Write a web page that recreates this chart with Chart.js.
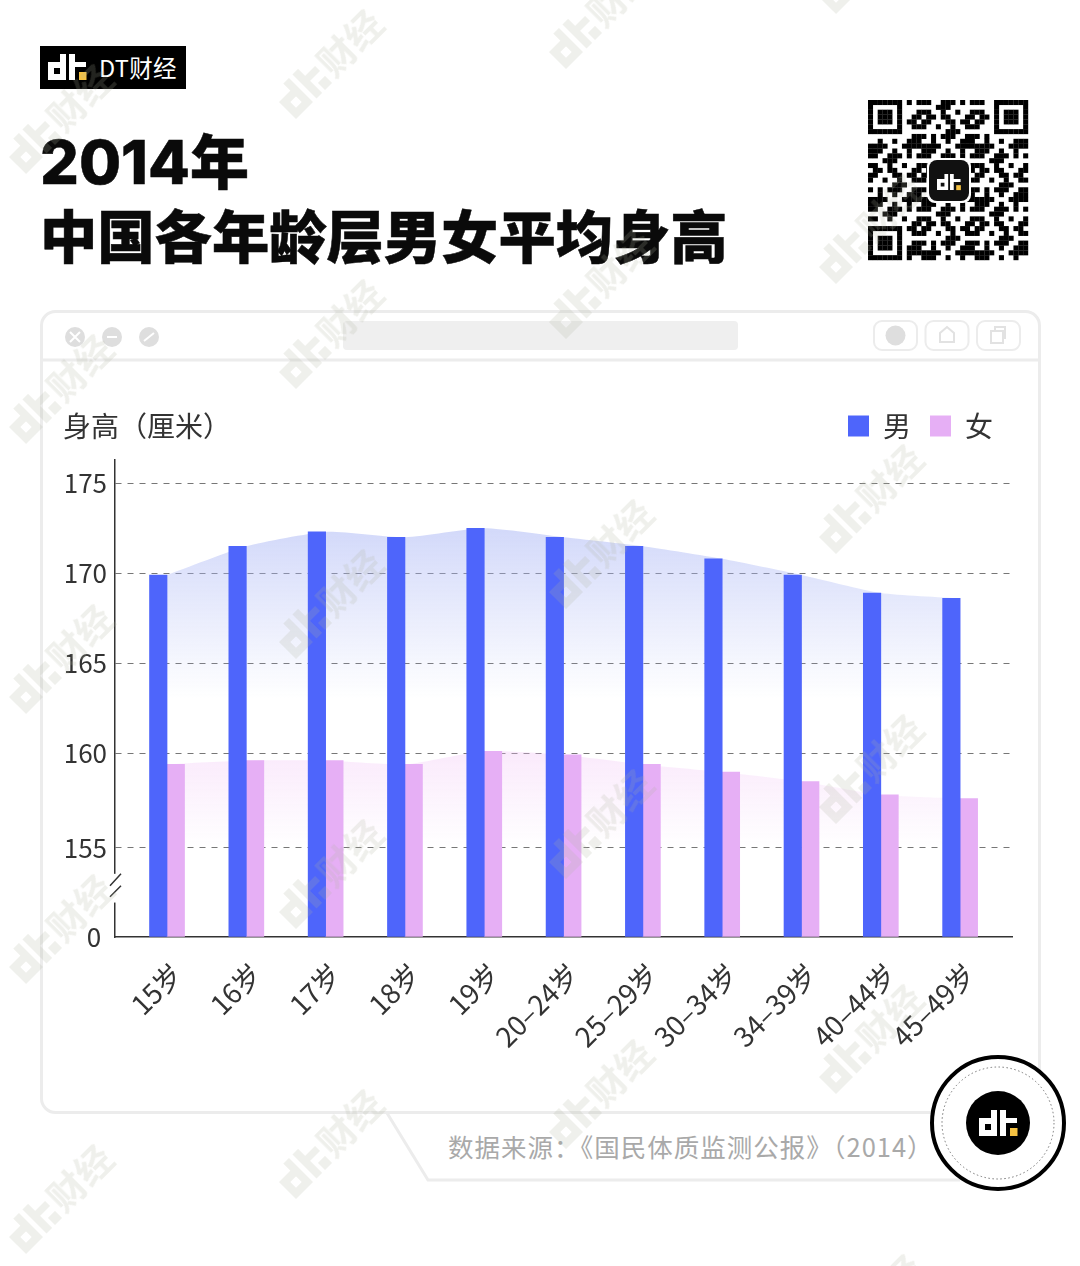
<!DOCTYPE html>
<html lang="zh"><head><meta charset="utf-8">
<script src="https://cdn.jsdelivr.net/npm/chart.js@4"></script>
<style>
html,body{margin:0;padding:0;background:#fff;width:1080px;height:1266px;overflow:hidden}
body{position:relative;font-family:"Noto Sans CJK SC","Noto Sans",sans-serif}
.t{position:absolute;white-space:nowrap}
svg.layer{position:absolute;left:0;top:0;pointer-events:none}
canvas{position:absolute;left:0}
</style></head><body>
<svg class="layer" width="1080" height="1266" id="bg" xmlns="http://www.w3.org/2000/svg">
<defs>
<g id="dtw"><path fill="#fff" fill-rule="evenodd" d="M12 0h6v26H0V8h12zM6 14v6h6v-6zM21 0h6v8h11v5H27v13h-6z"/><rect x="31" y="18" width="7.500" height="8" fill="#f5c242"/></g>
<g id="wm"><path fill="#b0b39e" fill-rule="evenodd" d="M16 0h8v34H0V10h16zM8 18v8h8v-8zM29 0h8v10h14v7H37v17h-8zM41 24h10v10H41z"/><text x="55" y="33" font-size="37" font-weight="700" fill="#b0b39e" font-family="Noto Sans CJK SC">财经</text></g>
</defs>
<rect x="41.500" y="311.500" width="998" height="801" rx="14" fill="#fff" stroke="#ececec" stroke-width="3"/>
<line x1="41" y1="360" x2="1039" y2="360" stroke="#ececec" stroke-width="3"/>
<circle cx="75" cy="337" r="10" fill="#dedede"/><circle cx="112" cy="337" r="10" fill="#dedede"/><circle cx="149" cy="337" r="10" fill="#dedede"/>
<path d="M70 332l10 10M80 332l-10 10M107 337h10M144 341l10-8" stroke="#fff" stroke-width="2"/>
<rect x="343" y="321" width="395" height="29" rx="4" fill="#efefef"/>
<rect x="874" y="321" width="43" height="29" rx="8" fill="#fff" stroke="#ececec" stroke-width="2"/>
<rect x="925.500" y="321" width="43" height="29" rx="8" fill="#fff" stroke="#ececec" stroke-width="2"/>
<rect x="977" y="321" width="43" height="29" rx="8" fill="#fff" stroke="#ececec" stroke-width="2"/>
<circle cx="895.500" cy="335.500" r="10" fill="#dedede"/>
<path d="M940 342v-9l7-6 7 6v9z" fill="none" stroke="#e2e2e2" stroke-width="2"/>
<path d="M991 331h12v12h-12zM995 331v-4h10v11h-2" fill="none" stroke="#e2e2e2" stroke-width="2"/>
<path d="M387 1113L428 1180H960" fill="none" stroke="#ececec" stroke-width="3"/>
<rect x="40" y="46" width="146" height="43" fill="#000"/>
<use href="#dtw" transform="translate(48,54)"/>
<g id="qr"></g>
<rect x="927" y="158" width="44" height="45" rx="8" fill="#fff"/>
<rect x="929" y="160" width="40" height="41" rx="8" fill="#111"/>
<use href="#dtw" transform="translate(937,174) scale(.62)"/>
</svg>
<div class="t" style="left:99px;top:49px;font-size:23.500px;line-height:36px;color:#fff;letter-spacing:.3px">DT财经</div>
<div class="t" style="left:40px;top:119px;font-size:61px;line-height:80px;font-weight:800;color:#0a0a0a;font-family:Inter,'Noto Sans CJK SC';-webkit-text-stroke:.5px #0a0a0a">2014<span style="font-family:'Noto Sans CJK SC';font-size:59px;font-weight:900">年</span></div>
<div class="t" style="left:40px;top:194px;font-size:57.300px;line-height:80px;font-weight:900;color:#0a0a0a;-webkit-text-stroke:.5px #0a0a0a">中国各年龄层男女平均身高</div>
<canvas id="c" width="1080" height="720" style="top:393px"></canvas>
<div class="t" style="left:63px;top:405px;font-size:28px;line-height:40px;color:#333">身高（厘米）</div>
<div class="t" style="left:448px;top:1127px;font-size:25.500px;line-height:38px;color:#a9a9a9;letter-spacing:1px">数据来源：《国民体质监测公报》（2014）</div>
<svg class="layer" width="1080" height="1266" id="fg" xmlns="http://www.w3.org/2000/svg">
<g id="marks" opacity=".2"></g>
<circle cx="998" cy="1123" r="66" fill="#fff" stroke="#000" stroke-width="4"/>
<circle cx="998" cy="1123" r="56" fill="none" stroke="#777" stroke-width="1" stroke-dasharray="1.500 2.500"/>
<circle cx="998" cy="1123" r="32" fill="#000"/>
<use href="#dtw" transform="translate(979,1110)"/>
</svg>
<script>
const categories = ['15岁','16岁','17岁','18岁','19岁','20–24岁','25–29岁','30–34岁','34–39岁','40–44岁','45–49岁'];
const maleHeights = [169.9,171.5,172.3,172.0,172.5,172.0,171.5,170.8,169.9,168.9,168.6];
const femaleHeights = [159.4,159.6,159.6,159.4,160.1,159.9,159.4,159.0,158.5,157.8,157.6];
const yTicks = [0,155,160,165,170,175];
const yStops = [0,155,160,176.3];
const yFractions = [0,0.1866,0.3857,1];

class BrokenScale extends Chart.LinearScale {
  static id = 'broken';
  static defaults = Chart.LinearScale.defaults;
  getPixelForValue(v){
    if(v===null||v===undefined||isNaN(v)) return NaN;
    let i=0; while(i<yStops.length-2 && v>yStops[i+1]) i++;
    const t=(v-yStops[i])/(yStops[i+1]-yStops[i]);
    return this.getPixelForDecimal(yFractions[i]+t*(yFractions[i+1]-yFractions[i]));
  }
  getValueForPixel(p){
    const d=this.getDecimalForPixel(p);
    let i=0; while(i<yFractions.length-2 && d>yFractions[i+1]) i++;
    const t=(d-yFractions[i])/(yFractions[i+1]-yFractions[i]);
    return yStops[i]+t*(yStops[i+1]-yStops[i]);
  }
}
class InsetCategoryScale extends Chart.CategoryScale {
  static id = 'insetCategory';
  static defaults = Chart.CategoryScale.defaults;
  configure(){
    super.configure();
    this._startValue = -0.656;
    this._valueRange = 11.31;
  }
}
Chart.register(BrokenScale, InsetCategoryScale);

function fade(rgb, topVal, endVal, a){
  return c=>{
    const ch=c.chart, y=ch.scales.y;
    if(!ch.chartArea) return 'rgba(0,0,0,0)';
    const g=ch.ctx.createLinearGradient(0,y.getPixelForValue(topVal),0,y.getPixelForValue(endVal));
    g.addColorStop(0,`rgba(${rgb},${a})`);
    g.addColorStop(1,`rgba(${rgb},0)`);
    return g;
  };
}
const legendHeight={id:'legendHeight',beforeLayout(ch){
  const l=ch.legend;
  if(l && !l._pinned){
    const fit=l.fit;
    l.fit=function(){fit.call(this); this.height=67;};
    l._pinned=true;
  }
}};
const axisBreak={id:'axisBreak',afterDraw(ch){
  const x=ch.scales.x.left, c=ch.ctx, y=ch.scales.y;
  const a=y.getPixelForValue(110), b=y.getPixelForValue(60);
  c.save();
  c.fillStyle='#fff'; c.fillRect(x-3,a,6,b-a);
  c.strokeStyle='#333'; c.lineWidth=1.5;
  c.beginPath();
  c.moveTo(x-5,a+12); c.lineTo(x+6,a);
  c.moveTo(x-5,a+23); c.lineTo(x+6,a+12);
  c.stroke(); c.restore();
}};
const tickFont={family:'"Noto Sans CJK SC"',size:26};
new Chart(document.getElementById('c'),{
  type:'bar',
  plugins:[legendHeight,axisBreak],
  data:{labels:categories,datasets:[
    {type:'bar',label:'男',data:maleHeights,backgroundColor:'#4e65fb',barThickness:17.5,order:1},
    {type:'bar',label:'女',data:femaleHeights,backgroundColor:'#e6aff5',barThickness:17.5,order:1},
    {type:'line',label:'男面积',data:maleHeights,borderWidth:0,pointRadius:0,tension:.2,fill:'origin',order:2,backgroundColor:fade('170,182,245',172.5,163,.52)},
    {type:'line',label:'女面积',data:femaleHeights,borderWidth:0,pointRadius:0,tension:.2,fill:'origin',order:2,backgroundColor:fade('240,190,245',160,155,.32)}
  ]},
  options:{
    responsive:false,animation:false,devicePixelRatio:1,
    layout:{autoPadding:false,padding:{left:0,right:68,top:0,bottom:0}},
    plugins:{
      tooltip:{enabled:false},
      legend:{position:'top',align:'end',labels:{
        filter:i=>i.datasetIndex<2,boxWidth:21,boxHeight:21,padding:19,color:'#333',
        font:{family:'"Noto Sans CJK SC"',size:28}
      }}
    },
    scales:{
      x:{type:'insetCategory',offset:false,
        afterFit(s){s.height=720-(937-393);},
        grid:{display:false},
        border:{display:true,color:'#333',width:1.5},
        ticks:{autoSkip:false,minRotation:45,maxRotation:45,labelOffset:10,padding:12,color:'#333',font:{family:'"Noto Sans CJK SC"',size:27.5}}
      },
      y:{type:'broken',min:0,max:176.3,
        afterFit(s){s.width=115;},
        afterBuildTicks(s){s.ticks=yTicks.map(value=>({value}));},
        grid:{drawTicks:false,lineWidth:1,color:c=>c.tick&&c.tick.value===0?'rgba(0,0,0,0)':'#777'},
        border:{display:true,color:'#333',width:1.5,dash:[6,6]},
        ticks:{autoSkip:false,padding:8,color:'#333',font:tickFont,callback:v=>v===0?'0 ':String(v)}
      }
    }
  }
});

// decorative QR-like block
(function(){
  const n=33,s=160/n,o=[868,100],g=document.getElementById('qr');let h='';
  const finder=(r,c)=>{const d=r<7&&c<7?[r,c]:r<7&&c>=n-7?[r,c-n+7]:r>=n-7&&c<7?[r-n+7,c]:null;
    if(!d)return null;const[a,b]=d;return a==0||a==6||b==0||b==6||(a>=2&&a<=4&&b>=2&&b<=4);};
  for(let r=0;r<n;r++)for(let c=0;c<n;c++){
    let f=finder(r,c);
    if(f===null){
      if((r==7&&(c<8||c>=n-8))||(c==7&&(r<8||r>=n-8))||(r==n-8&&c<8)||(r<8&&c==n-8))f=false;
      else f=((r*r*7+c*c*13+r*c*5+r*3+c)%11)<5;
    }
    if(f)h+=`<rect x="${o[0]+c*s}" y="${o[1]+r*s}" width="${s+.2}" height="${s+.2}" fill="#000"/>`;
  }
  g.innerHTML=h;
})();
// watermark lattice
(function(){
  const g=document.getElementById('marks');let h='';
  [[10,170],[280,115],[550,65],[820,10]].forEach(([x,y0])=>{
    for(let k=0;k<5+(x==820?1:0);k++){
      h+=`<use href="#wm" transform="translate(${x+16},${y0+270*k+4}) rotate(-45) translate(0,-34)"/>`;
    }
  });
  g.innerHTML=h;
})();
</script>
</body></html>
